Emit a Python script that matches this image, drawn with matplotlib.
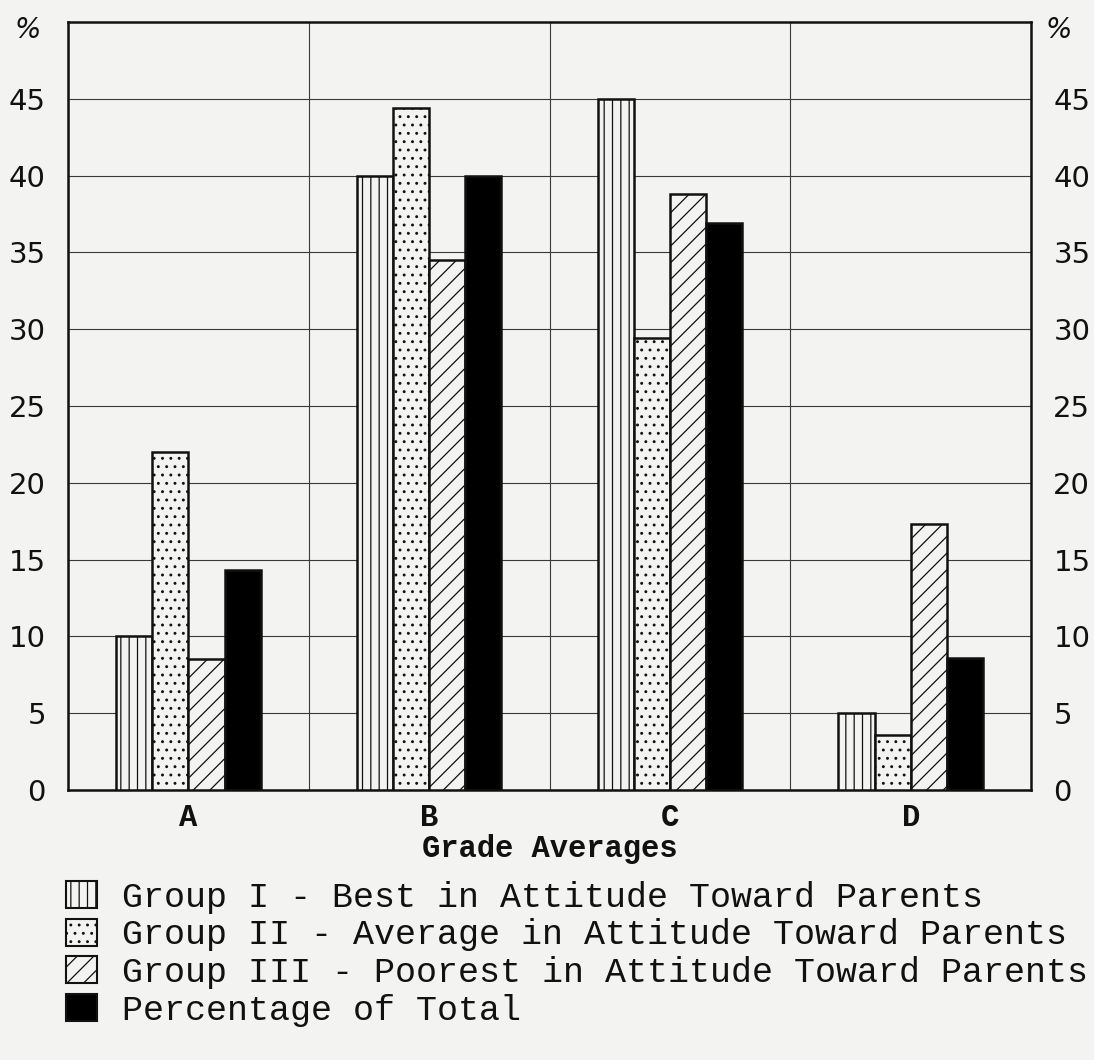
import matplotlib
matplotlib.use("Agg")
import matplotlib.pyplot as plt
from matplotlib.patches import Patch
import numpy as np

# data (percent)
grades = ["A", "B", "C", "D"]
group_1 = [10, 40, 45, 5]        # best in attitude toward parents
group_2 = [22, 44.4, 29.4, 3.6]  # average
group_3 = [8.5, 34.5, 38.8, 17.3]  # poorest
total = [14.3, 40, 36.9, 8.6]    # percentage of total
y_ticks = [0, 5, 10, 15, 20, 25, 30, 35, 40, 45]

labels = [
    "Group I - Best in Attitude Toward Parents",
    "Group II - Average in Attitude Toward Parents",
    "Group III - Poorest in Attitude Toward Parents",
    "Percentage of Total",
]

paper = "#f3f3f2"
ink = "#111111"
mono = "Liberation Mono"

plt.rcParams["hatch.linewidth"] = 0.9
plt.rcParams["hatch.color"] = ink

fig = plt.figure(figsize=(10.94, 10.60), dpi=100, facecolor=paper)
ax = fig.add_axes([0.0622, 0.2547, 0.8803, 0.7245], facecolor=paper)

x = np.arange(len(grades))
w = 0.15
series = [group_1, group_2, group_3, total]
hatches = ["||", "..", "//", None]
faces = [paper, paper, paper, "black"]
for i, (vals, h, fc) in enumerate(zip(series, hatches, faces)):
    ax.bar(x + (i - 1.5) * w, vals, width=w, color=fc, edgecolor=ink,
           linewidth=1.8, hatch=h, zorder=3)

ax.set_xlim(-0.5, 3.5)
ax.set_ylim(0, 50)

# grid: every 5% across, one column per grade
ax.set_yticks(y_ticks)
ax.set_xticks(x)
ax.set_xticks(np.arange(-0.5, 3.6, 1.0), minor=True)
ax.grid(True, axis="y", which="major", color="#3a3a3a", linewidth=0.8, zorder=1)
ax.grid(True, axis="x", which="minor", color="#3a3a3a", linewidth=0.8, zorder=1)
ax.set_axisbelow(True)
for s in ax.spines.values():
    s.set_linewidth(1.8)
    s.set_color(ink)

ax.tick_params(axis="both", which="both", length=0)
ax.tick_params(axis="y", labelsize=21, pad=16, labelcolor=ink,
               labelleft=True, labelright=True)
ax.set_xticklabels(grades, fontfamily=mono, fontsize=22, fontweight="bold", color=ink)
ax.tick_params(axis="x", pad=9)
for lbl in ax.get_yticklabels() + ax.get_yticklabels(which="major"):
    lbl.set_fontfamily("DejaVu Sans")

ax.set_xlabel("Grade Averages", fontfamily=mono, fontsize=22, fontweight="bold",
              color=ink, labelpad=1)

ax.text(-0.042, 0.99, "%", transform=ax.transAxes, fontsize=20, color=ink,
        ha="center", va="center", style="italic")
ax.text(1.029, 0.99, "%", transform=ax.transAxes, fontsize=20, color=ink,
        ha="center", va="center", style="italic")

handles = [Patch(facecolor=fc, edgecolor=ink, hatch=h, linewidth=1.5)
           for h, fc in zip(hatches, faces)]
fig.legend(handles, labels, loc="upper left", bbox_to_anchor=(0.060, 0.169),
           frameon=False, prop={"family": mono, "size": 25.2}, labelcolor=ink,
           handlelength=0.9, handleheight=0.8, handletextpad=0.7,
           labelspacing=0.13, borderpad=0, borderaxespad=0)

fig.savefig("out.png", dpi=100, facecolor=paper)
